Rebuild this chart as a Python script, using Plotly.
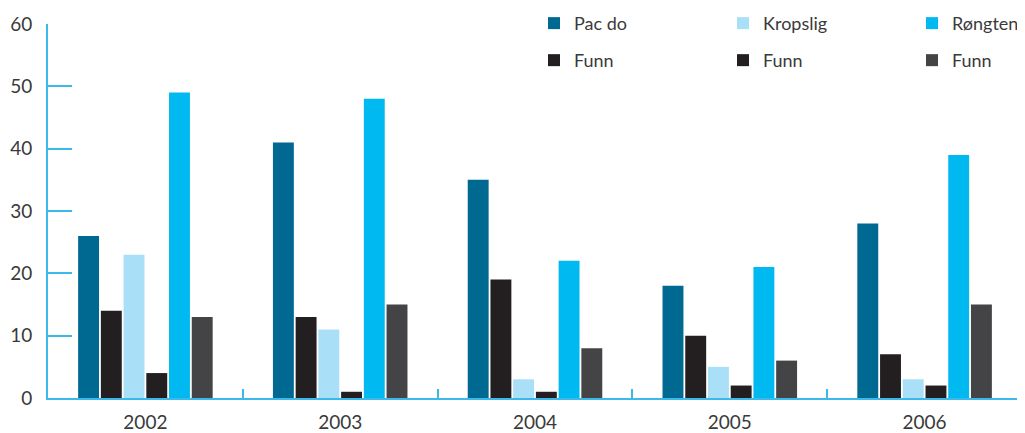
import plotly.graph_objects as go

# ── Data ─────────────────────────────────────────────────────
YEARS = ["2002", "2003", "2004", "2005", "2006"]

PAC_DO = [26, 41, 35, 18, 28]
FUNN_1 = [14, 13, 19, 10, 7]
KROPSLIG = [23, 11, 3, 5, 3]
FUNN_2 = [4, 1, 1, 2, 2]
RONGTEN = [49, 48, 22, 21, 39]
FUNN_3 = [13, 15, 8, 6, 15]

# ── Colors ───────────────────────────────────────────────────
COLORS = {
    "pac":    "#006991",
    "funn":   "#231f20",
    "krop":   "#aadff8",
    "rong":   "#00b9f0",
    "funn3":  "#444446",
    "axis":   "#3bb9ea",
    "text":   "#3a3a3a",
}

FONT = dict(family="Lato, 'Open Sans', sans-serif", size=19, color=COLORS["text"])
LEGEND_FONT = dict(family="Lato, 'Open Sans', sans-serif", size=18, color=COLORS["text"])

series = [
    ("Pac do", PAC_DO, COLORS["pac"], "legend"),
    ("Funn", FUNN_1, COLORS["funn"], "legend2"),
    ("Kropslig", KROPSLIG, COLORS["krop"], "legend"),
    ("Funn", FUNN_2, COLORS["funn"], "legend2"),
    ("Røngten", RONGTEN, COLORS["rong"], "legend"),
    ("Funn", FUNN_3, COLORS["funn3"], "legend2"),
]

fig = go.Figure()
for name, vals, color, leg in series:
    fig.add_trace(go.Bar(
        name=name,
        x=YEARS,
        y=vals,
        marker_color=color,
        marker_line_width=0,
        legend=leg,
    ))

legend_common = dict(
    orientation="h",
    xanchor="left",
    yanchor="top",
    x=0.499,
    entrywidth=144,
    entrywidthmode="pixels",
    font=LEGEND_FONT,
    bgcolor="rgba(0,0,0,0)",
    traceorder="normal",
)

# page body has an 8px margin, so the figure is sized to end at the window edge
fig.update_layout(
    width=1017,
    height=425,
    paper_bgcolor="white",
    plot_bgcolor="white",
    font=FONT,
    margin=dict(l=40, r=3, t=16, b=35, autoexpand=False),
    barmode="group",
    bargap=0.30,
    bargroupgap=0.08,
    legend=dict(**legend_common, y=1.051),
    legend2=dict(**legend_common, y=0.952),
    xaxis=dict(
        type="category",
        showline=True,
        linecolor=COLORS["axis"],
        linewidth=2,
        ticks="inside",
        tickson="boundaries",
        ticklen=9,
        tickwidth=2,
        tickcolor=COLORS["axis"],
        showgrid=False,
        ticklabelstandoff=6,
    ),
    yaxis=dict(
        range=[0, 60],
        dtick=10,
        showline=True,
        linecolor=COLORS["axis"],
        linewidth=2,
        ticks="inside",
        ticklen=24,
        tickwidth=2,
        tickcolor=COLORS["axis"],
        showgrid=False,
        zeroline=False,
        ticklabelstandoff=10,
    ),
)

fig.write_html("out.html")
